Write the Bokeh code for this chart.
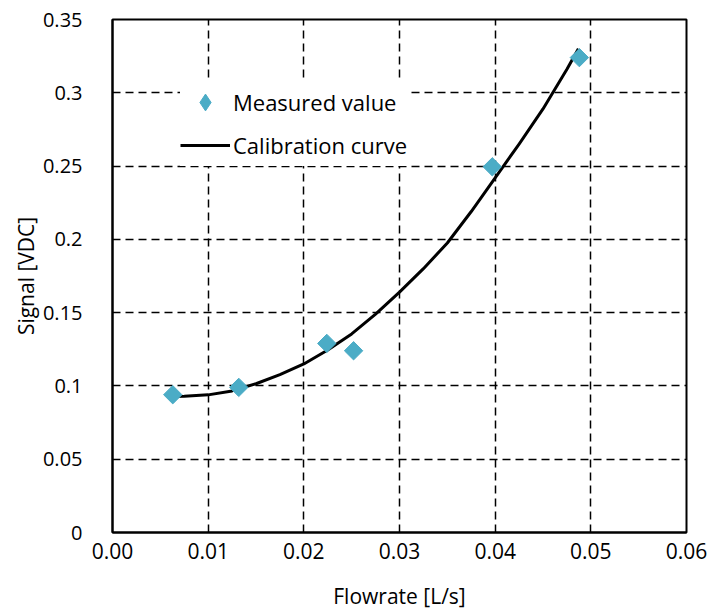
import math
from bokeh.plotting import figure
from bokeh.models import FixedTicker, Legend, LegendItem, Range1d
from bokeh.embed import file_html
from bokeh.resources import INLINE

# Measured data
flow_measured = [0.0063, 0.0132, 0.0224, 0.0252, 0.0397, 0.0488]
signal_measured = [0.094, 0.099, 0.129, 0.124, 0.2495, 0.324]

# Calibration curve (read along the drawn trendline)
flow_curve = [0.0063, 0.0075, 0.010, 0.0125, 0.015, 0.0175, 0.020, 0.0225, 0.025, 0.0275,
              0.030, 0.0325, 0.035, 0.0375, 0.040, 0.0425, 0.045, 0.0475, 0.0487]
signal_curve = [0.0928, 0.0930, 0.0939, 0.0966, 0.1015, 0.1077, 0.1150, 0.1245, 0.1355, 0.1490,
                0.1640, 0.1800, 0.1975, 0.2190, 0.2420, 0.2650, 0.2890, 0.3160, 0.3300]

x_ticks = [0.00, 0.01, 0.02, 0.03, 0.04, 0.05, 0.06]
x_tick_labels = ["0.00", "0.01", "0.02", "0.03", "0.04", "0.05", "0.06"]
y_ticks = [0, 0.05, 0.1, 0.15, 0.2, 0.25, 0.3, 0.35]
y_tick_labels = ["0", "0.05", "0.1", "0.15", "0.2", "0.25", "0.3", "0.35"]

FONT = "Open Sans"
MARKER_COLOR = "#4BACC6"

p = figure(width=708, height=613, output_backend="svg", toolbar_location=None,
           x_range=Range1d(0, 0.06), y_range=Range1d(0, 0.35),
           min_border_left=112, min_border_right=22, min_border_top=19, min_border_bottom=81)

p.outline_line_color = "black"
p.outline_line_width = 2

for g in (p.xgrid, p.ygrid):
    g.grid_line_color = "black"
    g.grid_line_width = 1.5
    g.grid_line_dash = "8 5"
p.xgrid.ticker = FixedTicker(ticks=x_ticks)
p.ygrid.ticker = FixedTicker(ticks=y_ticks)

p.xaxis.ticker = FixedTicker(ticks=x_ticks)
p.yaxis.ticker = FixedTicker(ticks=y_ticks)
p.xaxis.major_label_overrides = {t: l for t, l in zip(x_ticks, x_tick_labels)}
p.yaxis.major_label_overrides = {t: l for t, l in zip(y_ticks, y_tick_labels)}

for ax in (p.xaxis, p.yaxis):
    ax.axis_line_color = "black"
    ax.axis_line_width = 2
    ax.major_tick_line_color = None
    ax.minor_tick_line_color = None
    ax.major_label_text_font = FONT
    ax.major_label_text_color = "black"
    ax.axis_label_text_font = FONT
    ax.axis_label_text_font_size = "21px"
    ax.axis_label_text_font_style = "normal"
    ax.axis_label_text_color = "black"
p.xaxis.major_label_text_font_size = "21px"
p.yaxis.major_label_text_font_size = "20px"

p.xaxis.axis_label = "Flowrate [L/s]"
p.yaxis.axis_label = "Signal [VDC]"
p.xaxis.major_label_standoff = 4
p.yaxis.major_label_standoff = 24
p.xaxis.axis_label_standoff = 20
p.yaxis.axis_label_standoff = 0

line = p.line(flow_curve, signal_curve, line_color="black", line_width=3, line_join="round")
pts = p.scatter(flow_measured, signal_measured, marker="square", size=13, angle=math.pi / 4,
                fill_color=MARKER_COLOR, line_color=MARKER_COLOR)
# legend swatch (diamond shape) for the measured values; not drawn in the plot area
swatch = p.scatter(x=[float("nan")], y=[float("nan")], marker="diamond",
                   fill_color=MARKER_COLOR, line_color=MARKER_COLOR)

legend = Legend(items=[LegendItem(label="Measured value", renderers=[swatch]),
                       LegendItem(label="Calibration curve", renderers=[line])],
                location=(68, 366))
legend.background_fill_color = "white"
legend.background_fill_alpha = 1
legend.border_line_alpha = 0
legend.label_text_font = FONT
legend.label_text_font_size = "22px"
legend.label_text_color = "black"
legend.glyph_width = 50
legend.glyph_height = 42
legend.spacing = 1
legend.padding = 0
legend.margin = 0
legend.label_standoff = 3
p.add_layout(legend, "center")

open("out.html", "w").write(file_html(p, INLINE))
